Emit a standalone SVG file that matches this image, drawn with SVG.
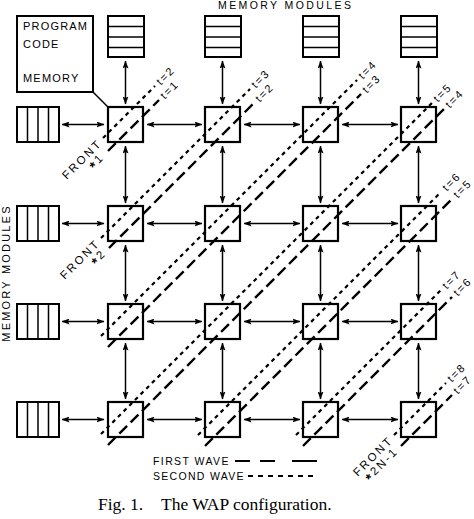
<svg xmlns="http://www.w3.org/2000/svg" width="474" height="519" viewBox="0 0 474 519">
<defs>
<marker id="ah" viewBox="0 0 8 6" refX="7.5" refY="3" markerWidth="8" markerHeight="6" markerUnits="userSpaceOnUse" orient="auto-start-reverse"><path d="M0,0 L8,3 L0,6 L1.5,3 z" fill="#000"/></marker>
</defs>
<style>
.box{fill:#fff;stroke:#000;stroke-width:2}
.pe{fill:none;stroke:#000;stroke-width:2.2}
.div{stroke:#000;stroke-width:1.5}
.arr{stroke:#000;stroke-width:1.5;fill:none;marker-start:url(#ah);marker-end:url(#ah)}
.w1{stroke:#000;stroke-width:2.4;stroke-dasharray:11 5;fill:none}
.w2{stroke:#000;stroke-width:2.2;stroke-dasharray:4 4;fill:none}
.lg1{stroke:#000;stroke-width:2;fill:none}
.lg2{stroke:#000;stroke-width:2;stroke-dasharray:5 5;fill:none}
text{font-family:"Liberation Sans",Arial,sans-serif;fill:#000}
.lb{font-size:11px;letter-spacing:1.2px}
.tl{font-size:11px;letter-spacing:1.8px}
.fr{font-size:11.5px;letter-spacing:2.3px;text-anchor:end}
.st{font-size:14px;font-weight:bold}
.lgt{font-size:10.5px;letter-spacing:1.4px}
.hd{font-size:10.5px;letter-spacing:2.4px}
.cap{font-family:"Liberation Serif","Times New Roman",serif;font-size:17.5px}
</style>

<!-- headings -->
<text class="hd" x="218" y="9">MEMORY MODULES</text>
<text class="hd" text-anchor="middle" transform="translate(10,273) rotate(-90)" style="font-size:11px;letter-spacing:2.2px">MEMORY MODULES</text>

<!-- program code memory -->
<g id="program-code-memory">
<rect class="box" x="17" y="16" width="76" height="76"/>
<line class="div" x1="93" y1="92" x2="108" y2="107"/>
<text class="lb" x="23" y="30">PROGRAM</text>
<text class="lb" x="23" y="48">CODE</text>
<text class="lb" x="23" y="82">MEMORY</text>
</g>

<!-- top memory modules -->
<g id="mem-top-1"><rect class="box" x="108" y="16" width="36" height="41"/><path class="div" d="M108,26.5H144M108,37H144M108,47.5H144"/></g>
<g id="mem-top-2"><rect class="box" x="205" y="16" width="36" height="41"/><path class="div" d="M205,26.5H241M205,37H241M205,47.5H241"/></g>
<g id="mem-top-3"><rect class="box" x="303" y="16" width="36" height="41"/><path class="div" d="M303,26.5H339M303,37H339M303,47.5H339"/></g>
<g id="mem-top-4"><rect class="box" x="401" y="16" width="36" height="41"/><path class="div" d="M401,26.5H437M401,37H437M401,47.5H437"/></g>

<!-- left memory modules -->
<g id="mem-left-1"><rect class="box" x="17" y="107" width="42" height="35"/><path class="div" d="M27.5,107V142M38,107V142M48.5,107V142"/></g>
<g id="mem-left-2"><rect class="box" x="17" y="206" width="42" height="35"/><path class="div" d="M27.5,206V241M38,206V241M48.5,206V241"/></g>
<g id="mem-left-3"><rect class="box" x="17" y="304" width="42" height="35"/><path class="div" d="M27.5,304V339M38,304V339M48.5,304V339"/></g>
<g id="mem-left-4"><rect class="box" x="17" y="402" width="42" height="35"/><path class="div" d="M27.5,402V437M38,402V437M48.5,402V437"/></g>

<!-- processing elements -->
<g id="pe-1-1"><rect class="pe" x="108" y="107" width="35" height="35"/></g>
<g id="pe-1-2"><rect class="pe" x="205" y="107" width="35" height="35"/></g>
<g id="pe-1-3"><rect class="pe" x="303" y="107" width="35" height="35"/></g>
<g id="pe-1-4"><rect class="pe" x="401" y="107" width="35" height="35"/></g>
<g id="pe-2-1"><rect class="pe" x="108" y="206" width="35" height="35"/></g>
<g id="pe-2-2"><rect class="pe" x="205" y="206" width="35" height="35"/></g>
<g id="pe-2-3"><rect class="pe" x="303" y="206" width="35" height="35"/></g>
<g id="pe-2-4"><rect class="pe" x="401" y="206" width="35" height="35"/></g>
<g id="pe-3-1"><rect class="pe" x="108" y="304" width="35" height="35"/></g>
<g id="pe-3-2"><rect class="pe" x="205" y="304" width="35" height="35"/></g>
<g id="pe-3-3"><rect class="pe" x="303" y="304" width="35" height="35"/></g>
<g id="pe-3-4"><rect class="pe" x="401" y="304" width="35" height="35"/></g>
<g id="pe-4-1"><rect class="pe" x="108" y="402" width="35" height="35"/></g>
<g id="pe-4-2"><rect class="pe" x="205" y="402" width="35" height="35"/></g>
<g id="pe-4-3"><rect class="pe" x="303" y="402" width="35" height="35"/></g>
<g id="pe-4-4"><rect class="pe" x="401" y="402" width="35" height="35"/></g>

<!-- connectors -->
<g id="connectors">
<path class="arr" d="M125.5,61V104"/>
<path class="arr" d="M222.5,61V104"/>
<path class="arr" d="M320.5,61V104"/>
<path class="arr" d="M418.5,61V104"/>
<path class="arr" d="M62,124.5H104"/>
<path class="arr" d="M62,223.5H104"/>
<path class="arr" d="M62,321.5H104"/>
<path class="arr" d="M62,419.5H104"/>
<path class="arr" d="M147,124.5H202"/><path class="arr" d="M244,124.5H300"/><path class="arr" d="M342,124.5H398"/>
<path class="arr" d="M147,223.5H202"/><path class="arr" d="M244,223.5H300"/><path class="arr" d="M342,223.5H398"/>
<path class="arr" d="M147,321.5H202"/><path class="arr" d="M244,321.5H300"/><path class="arr" d="M342,321.5H398"/>
<path class="arr" d="M147,419.5H202"/><path class="arr" d="M244,419.5H300"/><path class="arr" d="M342,419.5H398"/>
<path class="arr" d="M125.5,146V203"/><path class="arr" d="M222.5,146V203"/><path class="arr" d="M320.5,146V203"/><path class="arr" d="M418.5,146V203"/>
<path class="arr" d="M125.5,245V301"/><path class="arr" d="M222.5,245V301"/><path class="arr" d="M320.5,245V301"/><path class="arr" d="M418.5,245V301"/>
<path class="arr" d="M125.5,343V399"/><path class="arr" d="M222.5,343V399"/><path class="arr" d="M320.5,343V399"/><path class="arr" d="M418.5,343V399"/>
</g>

<!-- wave fronts -->
<g id="fronts">
<path class="w2" d="M103,138L155,86"/><path class="w1" d="M108,151L159,100"/>
<path class="w2" d="M101,238L250,89"/><path class="w1" d="M109,248L254,103"/>
<path class="w2" d="M101,336L357,80"/><path class="w1" d="M108,347L361,94"/>
<path class="w2" d="M101,434L432,103"/><path class="w1" d="M108,445L444,109"/>
<path class="w2" d="M198,435L441,192"/><path class="w1" d="M205,446L452,199"/>
<path class="w2" d="M296,435L441,290"/><path class="w1" d="M303,446L452,297"/>
<path class="w2" d="M394,435L446,383"/><path class="w1" d="M401,446L452,395"/>
</g>

<g id="front-labels">
<text class="tl" dy=".35em" transform="translate(158,83) rotate(-45)">t=2</text>
<text class="tl" dy=".35em" transform="translate(162,97) rotate(-45)">t=1</text>
<text class="tl" dy=".35em" transform="translate(253,86) rotate(-45)">t=3</text>
<text class="tl" dy=".35em" transform="translate(257,100) rotate(-45)">t=2</text>
<text class="tl" dy=".35em" transform="translate(360,77) rotate(-45)">t=4</text>
<text class="tl" dy=".35em" transform="translate(364,91) rotate(-45)">t=3</text>
<text class="tl" dy=".35em" transform="translate(435,100) rotate(-45)">t=5</text>
<text class="tl" dy=".35em" transform="translate(447,106) rotate(-45)">t=4</text>
<text class="tl" dy=".35em" transform="translate(444,189) rotate(-45)">t=6</text>
<text class="tl" dy=".35em" transform="translate(455,196) rotate(-45)">t=5</text>
<text class="tl" dy=".35em" transform="translate(444,287) rotate(-45)">t=7</text>
<text class="tl" dy=".35em" transform="translate(455,294) rotate(-45)">t=6</text>
<text class="tl" dy=".35em" transform="translate(449,380) rotate(-45)">t=8</text>
<text class="tl" dy=".35em" transform="translate(455,392) rotate(-45)">t=7</text>

<text class="fr" dy=".35em" transform="translate(100,141) rotate(-45)">FRONT</text>
<text class="fr" dy=".35em" transform="translate(104,157) rotate(-45)"><tspan class="st" dy=".3em">*</tspan><tspan dy="-.25em">1</tspan></text>
<text class="fr" dy=".35em" transform="translate(98,241) rotate(-45)">FRONT</text>
<text class="fr" dy=".35em" transform="translate(106,253) rotate(-45)"><tspan class="st" dy=".3em">*</tspan><tspan dy="-.25em">2</tspan></text>
<text class="fr" dy=".35em" transform="translate(391,438) rotate(-45)">FRONT</text>
<text class="fr" dy=".35em" transform="translate(398,451) rotate(-45)"><tspan class="st" dy=".3em">*</tspan><tspan dy="-.25em">2N-1</tspan></text>
</g>

<!-- legend -->
<g id="legend">
<text class="lgt" x="153" y="465">FIRST WAVE</text>
<path class="lg1" d="M235,461H250M260,461H275M292,461H317"/>
<text class="lgt" x="153" y="480" style="letter-spacing:1.3px">SECOND WAVE</text>
<path class="lg2" d="M248,476H315"/>
</g>

<text class="cap" x="98" y="510">Fig. 1.</text>
<text class="cap" x="161" y="510">The WAP configuration.</text>
</svg>
